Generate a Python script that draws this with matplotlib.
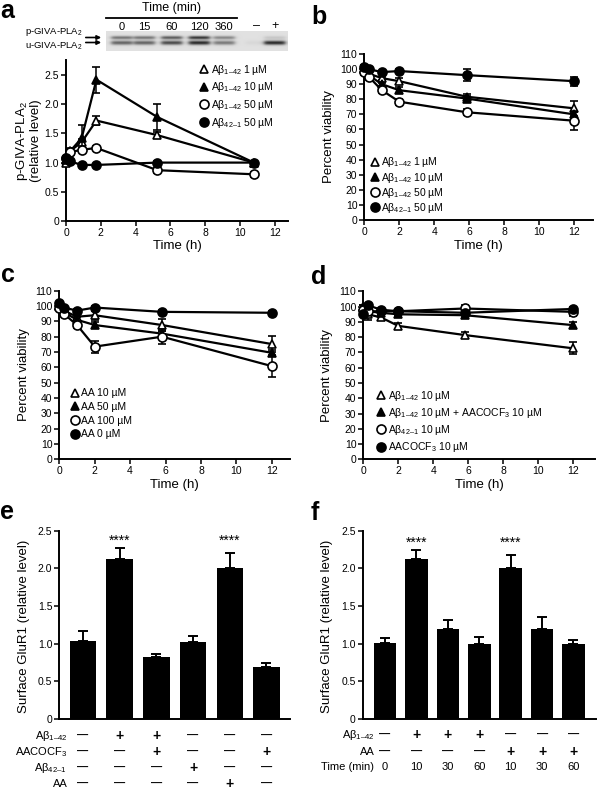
import numpy as np
import matplotlib
matplotlib.use('Agg')
import matplotlib.pyplot as plt
from matplotlib.lines import Line2D
from matplotlib.patches import FancyArrowPatch

plt.rcParams['font.family'] = ['Liberation Sans', 'DejaVu Sans']
plt.rcParams['mathtext.fontset'] = 'custom'
plt.rcParams['mathtext.rm'] = 'Liberation Sans'
plt.rcParams['mathtext.it'] = 'Liberation Sans:italic'
plt.rcParams['mathtext.bf'] = 'Liberation Sans:bold'

W, H = 597, 792

# ---------------- data ----------------
# panel a: western blot band strength (0..1) per lane
gel_lanes = ['0', '15', '60', '120', '360', '\u2013', '+']
gel_upper = [0.50, 0.50, 0.62, 0.80, 0.42, 0.00, 0.12]
gel_lower = [0.58, 0.58, 0.70, 0.85, 0.48, 0.04, 0.85]

# panel a: p-GIVA-PLA2 time course
t_a = [0, 0.25, 0.9, 1.75, 5.25, 10.8]
a_labels = ['A\u03b2$_{1\u201342}$ 1 \u00b5M', 'A\u03b2$_{1\u201342}$ 10 \u00b5M',
            'A\u03b2$_{1\u201342}$ 50 \u00b5M', 'A\u03b2$_{42\u20131}$ 50 \u00b5M']
a_vals = [[1.00, 1.20, 1.35, 1.72, 1.47, 1.00],
          [1.05, 1.20, 1.42, 2.42, 1.78, 1.00],
          [1.08, 1.18, 1.22, 1.25, 0.87, 0.80],
          [1.08, 1.02, 0.96, 0.96, 1.00, 1.00]]
a_errs = [[0.03, 0.04, 0.05, 0.07, 0.05, 0.03],
          [0.04, 0.05, 0.22, 0.22, 0.23, 0.03],
          [0.03, 0.03, 0.03, 0.04, 0.04, 0.04],
          [0.03, 0.02, 0.02, 0.02, 0.03, 0.02]]

# panel b: viability with Abeta
t_b = [0, 0.25, 1, 2, 5.85, 12]
b_labels = a_labels
b_vals = [[100, 97, 94, 92, 81.7, 74],
          [100, 96, 90, 86, 80.5, 70],
          [98, 95, 86, 78.4, 71.4, 65.8],
          [101.6, 100, 98, 98.7, 96, 92]]
b_errs = [[1, 1, 1, 2, 2, 5],
          [1, 1, 1, 2, 2, 2],
          [2, 2, 2, 2, 2, 6],
          [1, 1, 1, 1.5, 4, 3]]

# panel c: viability with AA
t_c = [0, 0.25, 1, 2, 5.8, 12]
c_labels = ['AA 10 \u00b5M', 'AA 50 \u00b5M', 'AA 100 \u00b5M', 'AA 0 \u00b5M']
c_vals = [[100, 97, 93, 94, 87.6, 75.2],
          [100, 96, 91, 87.6, 82, 69.5],
          [99, 95, 87.6, 73.5, 80, 60.8],
          [101.9, 99, 97, 99, 96.2, 95.6]]
c_errs = [[1, 1, 2, 3, 4, 5],
          [1, 1, 2, 2, 2, 2],
          [1, 1, 2, 4, 5, 7],
          [1, 1, 1, 1, 1, 1]]

# panel d: viability with AACOCF3
t_d = [0, 0.25, 1, 2, 5.8, 12]
d_labels = ['A\u03b2$_{1\u201342}$ 10 \u00b5M',
            'A\u03b2$_{1\u201342}$ 10 \u00b5M + AACOCF$_3$ 10 \u00b5M',
            'A\u03b2$_{42\u20131}$ 10 \u00b5M', 'AACOCF$_3$ 10 \u00b5M']
d_vals = [[100, 95, 93, 87.4, 81.4, 72.7],
          [100, 97, 96, 95, 94.4, 87.9],
          [98, 97, 97, 97, 98.8, 96.6],
          [95, 101, 98, 97, 96, 98.5]]
d_errs = [[1, 4, 2, 2, 2, 4],
          [1, 1, 1, 1, 2, 2],
          [1, 1, 1, 1, 2, 3],
          [1, 1, 1, 1, 1, 1]]

# panel e: surface GluR1 bars
e_vals = [1.04, 2.12, 0.82, 1.02, 2.01, 0.69]
e_errs = [0.13, 0.15, 0.04, 0.08, 0.19, 0.05]
e_stars = [1, 4]
e_rows = ['A\u03b2$_{1\u201342}$', 'AACOCF$_3$', 'A\u03b2$_{42\u20131}$', 'AA']
e_table = [['-', '+', '+', '-', '-', '-'],
           ['-', '-', '+', '-', '-', '+'],
           ['-', '-', '-', '+', '-', '-'],
           ['-', '-', '-', '-', '+', '-']]

# panel f: surface GluR1 bars, time course
f_vals = [1.005, 2.12, 1.19, 1.00, 2.01, 1.20, 1.00]
f_errs = [0.07, 0.13, 0.12, 0.09, 0.17, 0.15, 0.05]
f_stars = [1, 4]
f_rows = ['A\u03b2$_{1\u201342}$', 'AA', 'Time (min)']
f_table = [['-', '+', '+', '+', '-', '-', '-'],
           ['-', '-', '-', '-', '+', '+', '+'],
           ['0', '10', '30', '60', '10', '30', '60']]

# marker styles: open triangle, filled triangle, open circle, filled circle
styles = [('^', 'white'), ('^', 'black'), ('o', 'white'), ('o', 'black')]

# ---------------- helpers ----------------
fig = plt.figure(figsize=(W / 100, H / 100), dpi=100)


def box(left, right, bottom, top):
    return [left / W, 1 - bottom / H, (right - left) / W, (bottom - top) / H]


def style_axes(ax):
    for s in ['top', 'right']:
        ax.spines[s].set_visible(False)
    for s in ['left', 'bottom']:
        ax.spines[s].set_linewidth(1.4)
    ax.tick_params(direction='out', length=3.5, width=1.1, labelsize=7.5, pad=1.5)


def line_panel(ax, t, vals, errs, labels, xmax, leg_xy, leg_space):
    handles = []
    for i, (v, e) in enumerate(zip(vals, errs)):
        m, fc = styles[i]
        ms = 6.5 if m == 'o' else 6
        ax.errorbar(t, v, yerr=e, color='k', lw=1.6, marker=m, mfc=fc, mec='k',
                    mew=1.2, ms=ms, capsize=3, elinewidth=1.1, capthick=1.1,
                    clip_on=False, zorder=3 + i)
        handles.append(Line2D([], [], ls='none', marker=m, mfc=fc, mec='k',
                              mew=1.2, ms=ms))
    ax.set_xlim(0, xmax)
    ax.set_xticks(range(0, 13, 2))
    ax.legend(handles, labels, loc='upper left', bbox_to_anchor=leg_xy,
              frameon=False, fontsize=7.5, handlelength=0.9, handletextpad=0.2,
              labelspacing=leg_space, borderpad=0, borderaxespad=0)
    ax.text(0.5, -0.155, 'Time (h)', transform=ax.transAxes, ha='center',
            va='center', fontsize=9.5)


def viability_axes(ax):
    ax.set_ylim(0, 110)
    ax.set_yticks(range(0, 111, 10))
    ax.text(-0.155, 0.5, 'Percent viability', transform=ax.transAxes,
            rotation=90, ha='center', va='center', fontsize=9.5)


def bar_panel(ax, vals, errs, stars, star_y, rows, table, row_y, lab_x, xpad):
    x = np.arange(len(vals))
    ax.bar(x, vals, width=0.72, color='black', zorder=2)
    ax.errorbar(x, vals, yerr=[np.zeros(len(errs)), errs], fmt='none',
                ecolor='black', elinewidth=1.4, capsize=3.5, capthick=1.4,
                zorder=1)
    for i in stars:
        ax.text(x[i], star_y, '****', ha='center', va='center', fontsize=10)
    ax.set_xlim(-xpad, len(vals) - 1 + xpad)
    ax.set_ylim(0, 2.5)
    ax.set_yticks([0, 0.5, 1.0, 1.5, 2.0, 2.5])
    ax.set_yticklabels(['0', '0.5', '1.0', '1.5', '2.0', '2.5'])
    ax.set_xticks([])
    ax.text(-0.155, 0.49, 'Surface GluR1 (relative level)', transform=ax.transAxes,
            rotation=90, ha='center', va='center', fontsize=9.5)
    tr = ax.get_xaxis_transform()
    for r, (name, cells) in enumerate(zip(rows, table)):
        ax.text(lab_x, row_y[r], name, transform=ax.transAxes, ha='right',
                va='center', fontsize=8)
        for i, c in enumerate(cells):
            if c == '-':
                ax.text(x[i], row_y[r], '\u2014', transform=tr, ha='center',
                        va='center', fontsize=8, fontweight='bold')
            elif c == '+':
                ax.text(x[i], row_y[r], '+', transform=tr, ha='center',
                        va='center', fontsize=10, fontweight='bold')
            else:
                ax.text(x[i], row_y[r], c, transform=tr, ha='center',
                        va='center', fontsize=8)


# ---------------- panel a: gel ----------------
gel_left, gel_right, gel_top, gel_bot = 106, 288, 31, 51
lane_x = [121.7, 144.3, 171.7, 199.3, 224.3, 256.7, 275]
gx = np.linspace(gel_left, gel_right, 364)
gy = np.linspace(gel_top, gel_bot, 60)
img = np.full((gy.size, gx.size), 0.88)
for cx, up, lo in zip(lane_x, gel_upper, gel_lower):
    prof = 1 / (1 + np.exp(-(10.5 - np.abs(gx - cx)) / 1.3))
    img -= np.outer(up * np.exp(-0.5 * ((gy - 37.6) / 1.2) ** 2), prof) * 0.85
    img -= np.outer(lo * np.exp(-0.5 * ((gy - 42.8) / 1.5) ** 2), prof) * 0.85
gax = fig.add_axes(box(gel_left, gel_right, gel_bot, gel_top))
gax.imshow(np.clip(img, 0, 1), cmap='gray', vmin=0, vmax=1, aspect='auto',
           extent=(gel_left, gel_right, gel_bot, gel_top), interpolation='bilinear')
gax.axis('off')

fig.text(171.7 / W, 1 - 8.5 / H, 'Time (min)', ha='center', va='center', fontsize=9)
fig.add_artist(Line2D([106 / W, 237 / W], [1 - 18.3 / H] * 2, color='k', lw=1.3))
for lx, lab in zip(lane_x, gel_lanes):
    fig.text(lx / W, 1 - 26.5 / H, lab, ha='center', va='center',
             fontsize=9 if lab in ('+', '\u2013') else 8)
fig.text(83 / W, 1 - 31.5 / H, 'p-GIVA-PLA$_2$', ha='right', va='center', fontsize=6.8)
fig.text(83 / W, 1 - 45.5 / H, 'u-GIVA-PLA$_2$', ha='right', va='center', fontsize=6.8)
for yy in (37.5, 42.5):
    fig.add_artist(FancyArrowPatch((83 / W, 1 - yy / H), (104 / W, 1 - yy / H),
                                   transform=fig.transFigure, arrowstyle='-|>',
                                   mutation_scale=6, lw=1.2, color='k'))

# ---------------- panel a: plot ----------------
ax_a = fig.add_axes(box(66, 288.3, 221, 60.4))
style_axes(ax_a)
line_panel(ax_a, t_a, a_vals, a_errs, a_labels, 12.78, (0.6, 0.985), 0.35)
ax_a.set_ylim(0, 2.75)
ax_a.set_yticks([0, 0.5, 1.0, 1.5, 2.0, 2.5])
ax_a.set_yticklabels(['0', '0.5', '1.0', '1.5', '2.0', '2.5'])
ax_a.text(-0.17, 0.5, 'p-GIVA-PLA$_2$\n(relative level)', transform=ax_a.transAxes,
          rotation=90, ha='center', va='center', fontsize=9.5, linespacing=0.95)

# ---------------- panel b ----------------
ax_b = fig.add_axes(box(364.3, 593.3, 220, 54))
style_axes(ax_b)
viability_axes(ax_b)
line_panel(ax_b, t_b, b_vals, b_errs, b_labels, 13.1, (0.025, 0.39), 0.12)

# ---------------- panel c ----------------
ax_c = fig.add_axes(box(59.3, 290, 459.3, 290.7))
style_axes(ax_c)
viability_axes(ax_c)
line_panel(ax_c, t_c, c_vals, c_errs, c_labels, 13.03, (0.046, 0.42), 0.35)

# ---------------- panel d ----------------
ax_d = fig.add_axes(box(363.3, 595, 459.3, 291.4))
style_axes(ax_d)
viability_axes(ax_d)
line_panel(ax_d, t_d, d_vals, d_errs, d_labels, 13.24, (0.055, 0.42), 0.3)

# ---------------- panel e ----------------
ax_e = fig.add_axes(box(59.3, 290, 719, 530.7))
style_axes(ax_e)
bar_panel(ax_e, e_vals, e_errs, e_stars, 2.37, e_rows, e_table,
          [-0.09, -0.177, -0.262, -0.345], 0.035, 0.64)

# ---------------- panel f ----------------
ax_f = fig.add_axes(box(362.7, 595.8, 719, 530.7))
style_axes(ax_f)
bar_panel(ax_f, f_vals, f_errs, f_stars, 2.34, f_rows, f_table,
          [-0.085, -0.174, -0.253], 0.05, 0.71)

# panel letters
for letter, xx, yy in [('a', 0, 11), ('b', 311, 17), ('c', 1, 275),
                       ('d', 311, 277), ('e', 0, 512), ('f', 311, 513)]:
    fig.text(xx / W, 1 - yy / H, letter, ha='left', va='center', fontsize=18,
             fontweight='bold')

fig.savefig('out.png', dpi=100)
